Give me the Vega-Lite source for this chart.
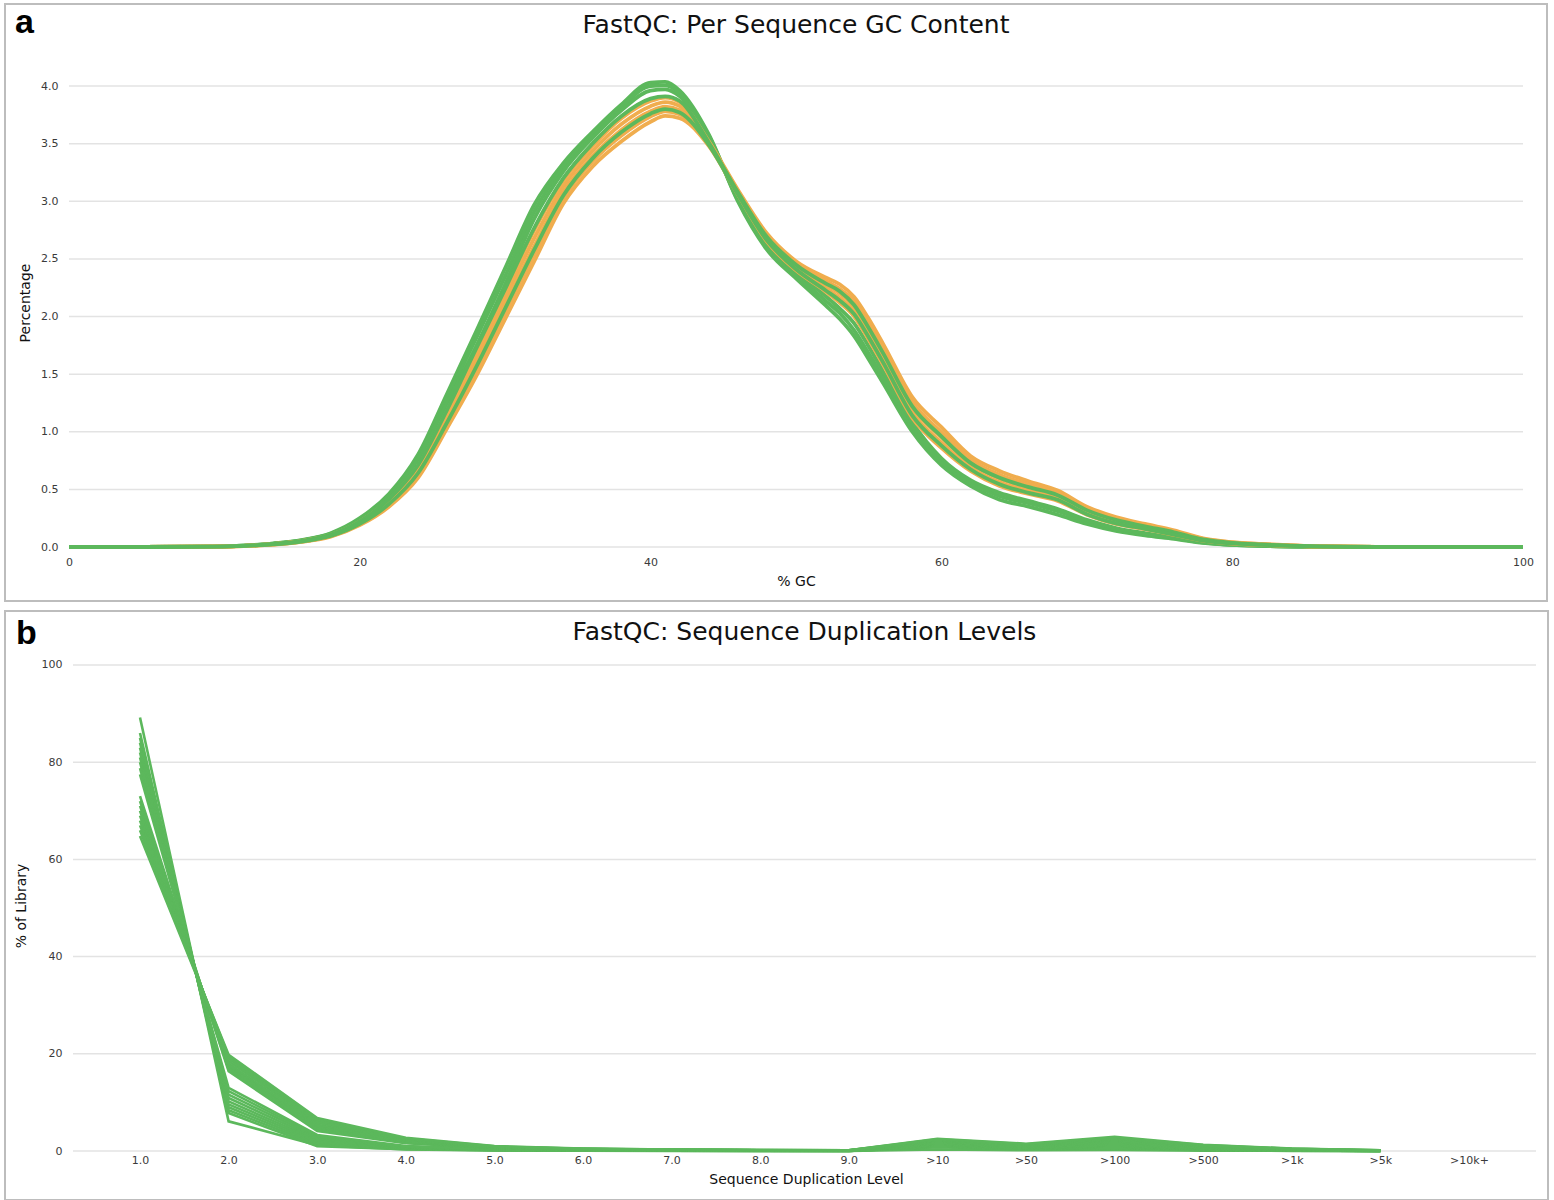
{
  "$schema": "https://vega.github.io/schema/vega-lite/v6.json",
  "padding": {"left": 4, "top": 3, "right": 0, "bottom": 0},
  "spacing": 8,
  "background": "white",
  "config": {
    "font": "DejaVu Sans",
    "view": {"stroke": "#bdbdbd", "strokeWidth": 2},
    "axis": {"grid": false, "ticks": false, "domain": false, "labelFont": "DejaVu Sans", "labelFontSize": 11, "labelColor": "#3a3a3a", "titleFont": "DejaVu Sans", "titleFontSize": 14, "titleFontWeight": "normal", "titleColor": "#111111"}
  },
  "vconcat": [
    {
      "width": 1542,
      "height": 597,
      "title": {"text": "FastQC: Per Sequence GC Content", "font": "DejaVu Sans", "fontSize": 25, "fontWeight": "normal", "color": "#111111", "offset": -54, "baseline": "alphabetic", "anchor": "middle", "dx": 20},
      "layer": [
        {
          "data": {"values": [{"pct": 0}, {"pct": 0.5}, {"pct": 1}, {"pct": 1.5}, {"pct": 2}, {"pct": 2.5}, {"pct": 3}, {"pct": 3.5}, {"pct": 4}]},
          "mark": {"type": "rule", "color": "#e3e3e3", "strokeWidth": 1.5},
          "encoding": {
            "x": {"datum": 0, "type": "quantitative"},
            "x2": {"datum": 100},
            "y": {"field": "pct", "type": "quantitative"}
          }
        },
        {
          "data": {"values": [
            {"gc": 0, "G1": 0, "G5": 0, "G2": 0, "O1": 0, "O2": 0, "O3": 0, "O4": 0, "O5": 0, "G3": 0, "G4": 0},
            {"gc": 5, "G1": 0, "G5": 0, "G2": 0, "O1": 0, "O2": 0, "O3": 0, "O4": 0, "O5": 0, "G3": 0, "G4": 0},
            {"gc": 10, "G1": 0.004, "G5": 0.004, "G2": 0.004, "O1": 0.003, "O2": 0.003, "O3": 0.0025, "O4": 0.002, "O5": 0.002, "G3": 0.003, "G4": 0.0025},
            {"gc": 12, "G1": 0.012, "G5": 0.012, "G2": 0.011, "O1": 0.01, "O2": 0.0095, "O3": 0.009, "O4": 0.0085, "O5": 0.008, "G3": 0.01, "G4": 0.009},
            {"gc": 14, "G1": 0.03, "G5": 0.029, "G2": 0.028, "O1": 0.026, "O2": 0.0245, "O3": 0.023, "O4": 0.0215, "O5": 0.02, "G3": 0.026, "G4": 0.022},
            {"gc": 16, "G1": 0.06, "G5": 0.058, "G2": 0.056, "O1": 0.052, "O2": 0.05, "O3": 0.048, "O4": 0.0465, "O5": 0.045, "G3": 0.053, "G4": 0.047},
            {"gc": 18, "G1": 0.12, "G5": 0.115, "G2": 0.112, "O1": 0.105, "O2": 0.101, "O3": 0.097, "O4": 0.0935, "O5": 0.09, "G3": 0.107, "G4": 0.095},
            {"gc": 20, "G1": 0.25, "G5": 0.24, "G2": 0.235, "O1": 0.22, "O2": 0.212, "O3": 0.205, "O4": 0.1975, "O5": 0.19, "G3": 0.222, "G4": 0.2},
            {"gc": 22, "G1": 0.46, "G5": 0.45, "G2": 0.44, "O1": 0.41, "O2": 0.395, "O3": 0.38, "O4": 0.365, "O5": 0.35, "G3": 0.415, "G4": 0.372},
            {"gc": 24, "G1": 0.8, "G5": 0.78, "G2": 0.76, "O1": 0.7, "O2": 0.675, "O3": 0.65, "O4": 0.625, "O5": 0.6, "G3": 0.71, "G4": 0.64},
            {"gc": 26, "G1": 1.33, "G5": 1.29, "G2": 1.25, "O1": 1.17, "O2": 1.135, "O3": 1.1, "O4": 1.065, "O5": 1.03, "G3": 1.19, "G4": 1.08},
            {"gc": 28, "G1": 1.87, "G5": 1.81, "G2": 1.74, "O1": 1.7, "O2": 1.645, "O3": 1.59, "O4": 1.535, "O5": 1.48, "G3": 1.72, "G4": 1.56},
            {"gc": 30, "G1": 2.42, "G5": 2.35, "G2": 2.28, "O1": 2.22, "O2": 2.16, "O3": 2.1, "O4": 2.04, "O5": 1.98, "G3": 2.24, "G4": 2.07},
            {"gc": 32, "G1": 2.97, "G5": 2.91, "G2": 2.85, "O1": 2.75, "O2": 2.68, "O3": 2.61, "O4": 2.545, "O5": 2.48, "G3": 2.77, "G4": 2.58},
            {"gc": 34, "G1": 3.33, "G5": 3.3, "G2": 3.26, "O1": 3.18, "O2": 3.13, "O3": 3.08, "O4": 3.03, "O5": 2.98, "G3": 3.2, "G4": 3.05},
            {"gc": 36, "G1": 3.6, "G5": 3.58, "G2": 3.55, "O1": 3.48, "O2": 3.435, "O3": 3.39, "O4": 3.345, "O5": 3.3, "G3": 3.5, "G4": 3.37},
            {"gc": 38, "G1": 3.84, "G5": 3.82, "G2": 3.79, "O1": 3.72, "O2": 3.67, "O3": 3.62, "O4": 3.57, "O5": 3.52, "G3": 3.74, "G4": 3.6},
            {"gc": 40, "G1": 4.03, "G5": 4.0, "G2": 3.96, "O1": 3.87, "O2": 3.825, "O3": 3.78, "O4": 3.735, "O5": 3.69, "G3": 3.89, "G4": 3.76},
            {"gc": 41, "G1": 4.035, "G5": 4.005, "G2": 3.97, "O1": 3.9, "O2": 3.86, "O3": 3.82, "O4": 3.78, "O5": 3.74, "G3": 3.91, "G4": 3.8},
            {"gc": 42, "G1": 3.96, "G5": 3.94, "G2": 3.91, "O1": 3.86, "O2": 3.825, "O3": 3.79, "O4": 3.755, "O5": 3.72, "G3": 3.87, "G4": 3.77},
            {"gc": 44, "G1": 3.58, "G5": 3.57, "G2": 3.56, "O1": 3.52, "O2": 3.51, "O3": 3.5, "O4": 3.49, "O5": 3.48, "G3": 3.51, "G4": 3.49},
            {"gc": 46, "G1": 3.0, "G5": 3.01, "G2": 3.03, "O1": 3.1, "O2": 3.09, "O3": 3.08, "O4": 3.07, "O5": 3.06, "G3": 3.08, "G4": 3.06},
            {"gc": 48, "G1": 2.58, "G5": 2.6, "G2": 2.63, "O1": 2.72, "O2": 2.7, "O3": 2.685, "O4": 2.667, "O5": 2.65, "G3": 2.69, "G4": 2.66},
            {"gc": 50, "G1": 2.33, "G5": 2.36, "G2": 2.39, "O1": 2.48, "O2": 2.46, "O3": 2.44, "O4": 2.42, "O5": 2.4, "G3": 2.45, "G4": 2.41},
            {"gc": 52, "G1": 2.1, "G5": 2.14, "G2": 2.18, "O1": 2.34, "O2": 2.31, "O3": 2.28, "O4": 2.25, "O5": 2.22, "G3": 2.29, "G4": 2.23},
            {"gc": 53, "G1": 1.98, "G5": 2.03, "G2": 2.07, "O1": 2.28, "O2": 2.24, "O3": 2.2, "O4": 2.16, "O5": 2.12, "G3": 2.22, "G4": 2.14},
            {"gc": 54, "G1": 1.83, "G5": 1.88, "G2": 1.94, "O1": 2.17, "O2": 2.13, "O3": 2.085, "O4": 2.043, "O5": 2.0, "G3": 2.1, "G4": 2.02},
            {"gc": 55, "G1": 1.63, "G5": 1.68, "G2": 1.74, "O1": 1.98, "O2": 1.935, "O3": 1.89, "O4": 1.845, "O5": 1.8, "G3": 1.9, "G4": 1.82},
            {"gc": 56, "G1": 1.42, "G5": 1.47, "G2": 1.52, "O1": 1.76, "O2": 1.715, "O3": 1.67, "O4": 1.625, "O5": 1.58, "G3": 1.68, "G4": 1.6},
            {"gc": 58, "G1": 1.0, "G5": 1.04, "G2": 1.08, "O1": 1.3, "O2": 1.255, "O3": 1.21, "O4": 1.165, "O5": 1.12, "G3": 1.22, "G4": 1.14},
            {"gc": 60, "G1": 0.71, "G5": 0.74, "G2": 0.77, "O1": 1.04, "O2": 0.995, "O3": 0.95, "O4": 0.905, "O5": 0.86, "G3": 0.96, "G4": 0.88},
            {"gc": 62, "G1": 0.53, "G5": 0.56, "G2": 0.58, "O1": 0.79, "O2": 0.757, "O3": 0.725, "O4": 0.692, "O5": 0.66, "G3": 0.73, "G4": 0.675},
            {"gc": 64, "G1": 0.41, "G5": 0.44, "G2": 0.47, "O1": 0.66, "O2": 0.627, "O3": 0.595, "O4": 0.562, "O5": 0.53, "G3": 0.6, "G4": 0.545},
            {"gc": 66, "G1": 0.35, "G5": 0.38, "G2": 0.4, "O1": 0.57, "O2": 0.542, "O3": 0.515, "O4": 0.487, "O5": 0.46, "G3": 0.52, "G4": 0.47},
            {"gc": 68, "G1": 0.28, "G5": 0.31, "G2": 0.33, "O1": 0.49, "O2": 0.467, "O3": 0.445, "O4": 0.422, "O5": 0.4, "G3": 0.45, "G4": 0.41},
            {"gc": 70, "G1": 0.2, "G5": 0.22, "G2": 0.235, "O1": 0.35, "O2": 0.332, "O3": 0.315, "O4": 0.297, "O5": 0.28, "G3": 0.32, "G4": 0.285},
            {"gc": 72, "G1": 0.14, "G5": 0.155, "G2": 0.165, "O1": 0.26, "O2": 0.245, "O3": 0.23, "O4": 0.215, "O5": 0.2, "G3": 0.235, "G4": 0.205},
            {"gc": 74, "G1": 0.1, "G5": 0.112, "G2": 0.12, "O1": 0.2, "O2": 0.189, "O3": 0.178, "O4": 0.166, "O5": 0.155, "G3": 0.18, "G4": 0.158},
            {"gc": 76, "G1": 0.07, "G5": 0.077, "G2": 0.082, "O1": 0.145, "O2": 0.135, "O3": 0.125, "O4": 0.115, "O5": 0.105, "G3": 0.128, "G4": 0.108},
            {"gc": 78, "G1": 0.035, "G5": 0.038, "G2": 0.04, "O1": 0.075, "O2": 0.07, "O3": 0.065, "O4": 0.06, "O5": 0.055, "G3": 0.066, "G4": 0.056},
            {"gc": 80, "G1": 0.018, "G5": 0.019, "G2": 0.02, "O1": 0.042, "O2": 0.039, "O3": 0.036, "O4": 0.033, "O5": 0.03, "G3": 0.036, "G4": 0.031},
            {"gc": 82, "G1": 0.009, "G5": 0.01, "G2": 0.01, "O1": 0.026, "O2": 0.024, "O3": 0.022, "O4": 0.02, "O5": 0.018, "G3": 0.022, "G4": 0.019},
            {"gc": 84, "G1": 0.004, "G5": 0.004, "G2": 0.005, "O1": 0.015, "O2": 0.014, "O3": 0.0125, "O4": 0.011, "O5": 0.01, "G3": 0.012, "G4": 0.01},
            {"gc": 86, "G1": 0.002, "G5": 0.002, "G2": 0.002, "O1": 0.006, "O2": 0.0055, "O3": 0.005, "O4": 0.0045, "O5": 0.004, "G3": 0.005, "G4": 0.004},
            {"gc": 90, "G1": 0, "G5": 0, "G2": 0, "O1": 0.001, "O2": 0.001, "O3": 0.0005, "O4": 0, "O5": 0, "G3": 0, "G4": 0},
            {"gc": 100, "G1": 0, "G5": 0, "G2": 0, "O1": 0, "O2": 0, "O3": 0, "O4": 0, "O5": 0, "G3": 0, "G4": 0}
          ]},
          "transform": [{"fold": ["G1", "G5", "G2", "O1", "O2", "O3", "O4", "O5", "G3", "G4"], "as": ["series", "pct"]}],
          "mark": {"type": "line", "interpolate": "monotone"},
          "encoding": {
            "x": {"field": "gc", "type": "quantitative", "scale": {"domain": [-4.4017, 101.6506], "nice": false, "zero": false},
              "axis": {"values": [0, 20, 40, 60, 80, 100], "format": "d", "title": "% GC", "offset": -54, "labelPadding": 9, "titlePadding": 7, "titleX": 791}},
            "y": {"field": "pct", "type": "quantitative", "scale": {"domain": [-0.4685, 4.7115], "nice": false, "zero": false},
              "axis": {"values": [0, 0.5, 1, 1.5, 2, 2.5, 3, 3.5, 4], "format": ".1f", "title": "Percentage", "offset": -53, "labelPadding": 0, "titlePadding": 8}},
            "color": {"field": "series", "type": "nominal", "legend": null,
              "scale": {"domain": ["G1", "G5", "G2", "O1", "O2", "O3", "O4", "O5", "G3", "G4"], "range": ["#5cb85c", "#5cb85c", "#5cb85c", "#f0ad4e", "#f0ad4e", "#f0ad4e", "#f0ad4e", "#f0ad4e", "#5cb85c", "#5cb85c"]}},
            "strokeWidth": {"field": "series", "type": "nominal", "legend": null,
              "scale": {"domain": ["G1", "G5", "G2", "O1", "O2", "O3", "O4", "O5", "G3", "G4"], "range": [3.8, 3.8, 3.8, 4.4, 4.4, 4.4, 4.4, 4.4, 1.5, 1.5]}}
          }
        },
        {
          "data": {"values": [{"t": "a"}]},
          "mark": {"type": "text", "font": "Liberation Sans", "fontWeight": "bold", "fontSize": 34, "align": "left", "baseline": "alphabetic", "color": "#000000"},
          "encoding": {
            "x": {"datum": -3.71, "type": "quantitative"},
            "y": {"datum": 4.46, "type": "quantitative"},
            "text": {"field": "t"}
          }
        }
      ]
    },
    {
      "width": 1543,
      "height": 589,
      "title": {"text": "FastQC: Sequence Duplication Levels", "font": "DejaVu Sans", "fontSize": 25, "fontWeight": "normal", "color": "#111111", "offset": -54, "baseline": "alphabetic", "anchor": "middle", "dx": 28},
      "layer": [
        {
          "data": {"values": [{"pct": 0}, {"pct": 20}, {"pct": 40}, {"pct": 60}, {"pct": 80}, {"pct": 100}]},
          "mark": {"type": "rule", "color": "#e3e3e3", "strokeWidth": 1.5, "xOffset": -67, "x2Offset": 67},
          "encoding": {
            "x": {"datum": "1.0", "type": "ordinal"},
            "x2": {"datum": ">10k+"},
            "y": {"field": "pct", "type": "quantitative"}
          }
        },
        {
          "data": {"values": [
            {"level": "1.0", "u0": 89.2, "u1": 86, "u2": 85, "u3": 84, "u4": 83, "u5": 82, "u6": 81, "u7": 80, "u8": 78.8, "u9": 77.5, "l1": 73, "l2": 72, "l3": 71, "l4": 70, "l5": 69, "l6": 68, "l7": 67, "l8": 66, "l9": 64.8},
            {"level": "2.0", "u0": 6.1, "u1": 7.8, "u2": 8.4, "u3": 9.0, "u4": 9.6, "u5": 10.2, "u6": 10.9, "u7": 11.6, "u8": 12.3, "u9": 13.0, "l1": 16.4, "l2": 16.8, "l3": 17.2, "l4": 17.6, "l5": 18.0, "l6": 18.5, "l7": 19.0, "l8": 19.4, "l9": 19.8},
            {"level": "3.0", "u0": 1.2, "u1": 1.0, "u2": 1.3, "u3": 1.6, "u4": 1.9, "u5": 2.2, "u6": 2.5, "u7": 2.8, "u8": 3.05, "u9": 3.3, "l1": 4.1, "l2": 4.4, "l3": 4.8, "l4": 5.1, "l5": 5.4, "l6": 5.8, "l7": 6.1, "l8": 6.5, "l9": 6.8},
            {"level": "4.0", "u0": 0.3, "u1": 0.35, "u2": 0.45, "u3": 0.5, "u4": 0.6, "u5": 0.7, "u6": 0.75, "u7": 0.85, "u8": 0.9, "u9": 1.0, "l1": 1.6, "l2": 1.7, "l3": 1.85, "l4": 2.0, "l5": 2.1, "l6": 2.25, "l7": 2.4, "l8": 2.55, "l9": 2.7},
            {"level": "5.0", "u0": 0.12, "u1": 0.15, "u2": 0.18, "u3": 0.2, "u4": 0.23, "u5": 0.26, "u6": 0.29, "u7": 0.32, "u8": 0.36, "u9": 0.4, "l1": 0.6, "l2": 0.65, "l3": 0.7, "l4": 0.75, "l5": 0.8, "l6": 0.85, "l7": 0.9, "l8": 0.95, "l9": 1.0},
            {"level": "6.0", "u0": 0.06, "u1": 0.08, "u2": 0.09, "u3": 0.1, "u4": 0.12, "u5": 0.13, "u6": 0.15, "u7": 0.16, "u8": 0.18, "u9": 0.2, "l1": 0.3, "l2": 0.32, "l3": 0.35, "l4": 0.37, "l5": 0.4, "l6": 0.42, "l7": 0.45, "l8": 0.47, "l9": 0.5},
            {"level": "7.0", "u0": 0.03, "u1": 0.05, "u2": 0.06, "u3": 0.06, "u4": 0.07, "u5": 0.08, "u6": 0.09, "u7": 0.1, "u8": 0.11, "u9": 0.12, "l1": 0.18, "l2": 0.2, "l3": 0.21, "l4": 0.23, "l5": 0.24, "l6": 0.26, "l7": 0.27, "l8": 0.29, "l9": 0.3},
            {"level": "8.0", "u0": 0.02, "u1": 0.03, "u2": 0.035, "u3": 0.04, "u4": 0.045, "u5": 0.05, "u6": 0.055, "u7": 0.06, "u8": 0.07, "u9": 0.08, "l1": 0.12, "l2": 0.13, "l3": 0.14, "l4": 0.15, "l5": 0.16, "l6": 0.17, "l7": 0.18, "l8": 0.19, "l9": 0.2},
            {"level": "9.0", "u0": 0.01, "u1": 0.02, "u2": 0.025, "u3": 0.03, "u4": 0.035, "u5": 0.04, "u6": 0.045, "u7": 0.05, "u8": 0.055, "u9": 0.06, "l1": 0.08, "l2": 0.09, "l3": 0.1, "l4": 0.11, "l5": 0.12, "l6": 0.12, "l7": 0.13, "l8": 0.14, "l9": 0.15},
            {"level": ">10", "u0": 0.3, "u1": 0.8, "u2": 0.85, "u3": 0.9, "u4": 1.0, "u5": 1.1, "u6": 1.2, "u7": 1.3, "u8": 1.4, "u9": 1.5, "l1": 1.6, "l2": 1.7, "l3": 1.8, "l4": 1.9, "l5": 2.0, "l6": 2.1, "l7": 2.25, "l8": 2.4, "l9": 2.5},
            {"level": ">50", "u0": 0.15, "u1": 0.4, "u2": 0.45, "u3": 0.5, "u4": 0.55, "u5": 0.6, "u6": 0.65, "u7": 0.7, "u8": 0.75, "u9": 0.8, "l1": 0.9, "l2": 0.95, "l3": 1.0, "l4": 1.1, "l5": 1.15, "l6": 1.25, "l7": 1.3, "l8": 1.4, "l9": 1.5},
            {"level": ">100", "u0": 0.2, "u1": 0.5, "u2": 0.6, "u3": 0.7, "u4": 0.8, "u5": 0.9, "u6": 1.0, "u7": 1.1, "u8": 1.2, "u9": 1.3, "l1": 1.5, "l2": 1.7, "l3": 1.85, "l4": 2.0, "l5": 2.2, "l6": 2.4, "l7": 2.55, "l8": 2.7, "l9": 2.9},
            {"level": ">500", "u0": 0.08, "u1": 0.2, "u2": 0.23, "u3": 0.27, "u4": 0.3, "u5": 0.33, "u6": 0.37, "u7": 0.4, "u8": 0.45, "u9": 0.5, "l1": 0.6, "l2": 0.68, "l3": 0.75, "l4": 0.85, "l5": 0.95, "l6": 1.0, "l7": 1.1, "l8": 1.2, "l9": 1.3},
            {"level": ">1k", "u0": 0.03, "u1": 0.05, "u2": 0.07, "u3": 0.09, "u4": 0.1, "u5": 0.12, "u6": 0.14, "u7": 0.16, "u8": 0.18, "u9": 0.2, "l1": 0.2, "l2": 0.24, "l3": 0.28, "l4": 0.32, "l5": 0.36, "l6": 0.4, "l7": 0.43, "l8": 0.46, "l9": 0.5},
            {"level": ">5k", "u0": 0, "u1": 0, "u2": 0.005, "u3": 0.01, "u4": 0.015, "u5": 0.02, "u6": 0.025, "u7": 0.03, "u8": 0.04, "u9": 0.05, "l1": 0.05, "l2": 0.06, "l3": 0.07, "l4": 0.08, "l5": 0.09, "l6": 0.1, "l7": 0.12, "l8": 0.13, "l9": 0.15}
          ]},
          "transform": [{"fold": ["u0", "u1", "u2", "u3", "u4", "u5", "u6", "u7", "u8", "u9", "l1", "l2", "l3", "l4", "l5", "l6", "l7", "l8", "l9"], "as": ["sample", "pct"]}],
          "mark": {"type": "line", "color": "#5cb85c", "strokeWidth": 2.6},
          "encoding": {
            "x": {"field": "level", "type": "ordinal", "sort": null,
              "scale": {"type": "point", "domain": ["1.0", "2.0", "3.0", "4.0", "5.0", "6.0", "7.0", "8.0", "9.0", ">10", ">50", ">100", ">500", ">1k", ">5k", ">10k+"], "range": [135, 1464], "padding": 0},
              "axis": {"title": "Sequence Duplication Level", "labelAngle": 0, "labelAlign": "center", "offset": -49, "labelPadding": 9, "titlePadding": 7, "titleX": 801}},
            "y": {"field": "pct", "type": "quantitative", "scale": {"domain": [-10.082, 111.111], "nice": false, "zero": false},
              "axis": {"values": [0, 20, 40, 60, 80, 100], "format": "d", "title": "% of Library", "offset": -57, "labelPadding": 0, "titlePadding": 13}},
            "detail": {"field": "sample", "type": "nominal"}
          }
        },
        {
          "data": {"values": [{"t": "b"}]},
          "mark": {"type": "text", "font": "Liberation Sans", "fontWeight": "bold", "fontSize": 34, "align": "left", "baseline": "alphabetic", "color": "#000000", "dx": -124},
          "encoding": {
            "x": {"datum": "1.0", "type": "ordinal"},
            "y": {"datum": 104.3, "type": "quantitative"},
            "text": {"field": "t"}
          }
        }
      ]
    }
  ]
}
